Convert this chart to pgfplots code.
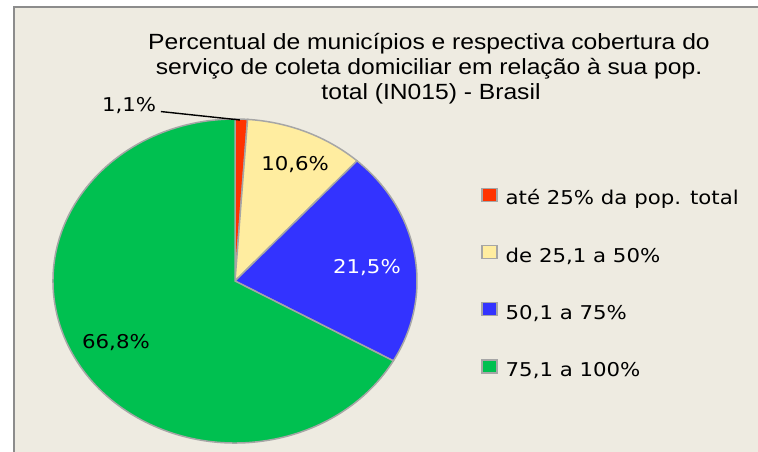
\documentclass[border=0pt]{standalone}
\usepackage{pgfplots}
\pgfplotsset{compat=1.18}
\usepackage{pgfplotstable}
\usepackage{fontspec}
\setmainfont[FakeStretch=1.12]{DejaVu Sans}
\newfontfamily\titlefont[FakeStretch=1.12]{Liberation Sans}
\definecolor{bg}{HTML}{EEEBE1}
\definecolor{cred}{HTML}{FF3300}
\definecolor{cyel}{HTML}{FFEDA0}
\definecolor{cblu}{HTML}{3333FF}
\definecolor{cgrn}{HTML}{00C050}
\definecolor{edge}{HTML}{A6A6A6}
\definecolor{frame}{HTML}{8C8C8C}

\pgfplotstableread{
idx value
0 1.1
1 10.6
2 21.5
3 66.8
}\piedata

\begin{document}
\begin{tikzpicture}[x=1pt,y=1pt]
\path[use as bounding box] (0pt,0pt) rectangle (758pt,-452pt);
\fill[white] (0pt,0pt) rectangle (758pt,-452pt);
\fill[bg] (14pt,-7pt) rectangle (758pt,-452pt);
\draw[frame, line width=2pt] (14pt,-452pt) -- (14pt,-7pt) -- (758pt,-7pt);

\pgfplotstablegetelem{0}{value}\of\piedata \let\vA\pgfplotsretval
\pgfplotstablegetelem{1}{value}\of\piedata \let\vB\pgfplotsretval
\pgfplotstablegetelem{2}{value}\of\piedata \let\vC\pgfplotsretval
\pgfplotstablegetelem{3}{value}\of\piedata \let\vD\pgfplotsretval
\pgfmathsetmacro\tA{0}
\pgfmathsetmacro\tB{\tA+3.6*\vA}
\pgfmathsetmacro\tC{\tB+3.6*\vB}
\pgfmathsetmacro\tD{\tC+3.6*\vC}
\pgfmathsetmacro\tE{\tD+3.6*\vD}
\pgfmathsetmacro\xA{sin(\tA)}\pgfmathsetmacro\yA{cos(\tA)}
\pgfmathsetmacro\xB{sin(\tB)}\pgfmathsetmacro\yB{cos(\tB)}
\pgfmathsetmacro\xC{sin(\tC)}\pgfmathsetmacro\yC{cos(\tC)}
\pgfmathsetmacro\xD{sin(\tD)}\pgfmathsetmacro\yD{cos(\tD)}

\begin{axis}[
  at={(53pt,-443pt)}, anchor=south west,
  x=182pt, y=162pt,
  xmin=-1, xmax=1, ymin=-1, ymax=1,
  hide axis, clip=false,
  legend image code/.code={\draw[#1, line width=1.5pt] (0pt,-1pt) rectangle (15pt,12pt);},
  legend style={draw=none, fill=none, inner sep=0pt,
    at={(axis description cs:1.1758,0.7886)}, anchor=north west,
    font=\fontsize{19}{19}\selectfont,
    row sep=34.9pt,
    nodes={inner sep=0pt, text height=14pt, text depth=5pt},
    /tikz/every odd column/.append style={column sep=8pt}},
  legend cell align=left,
]
\addplot[fill=cred, draw=edge, line width=1.5pt] coordinates {(0,0) (\xA,\yA)}
  arc[start angle={90-\tA}, end angle={90-\tB}, x radius=182pt, y radius=162pt] -- cycle;
\addlegendentry{até 25\% da pop. total}
\addplot[fill=cyel, draw=edge, line width=1.5pt] coordinates {(0,0) (\xB,\yB)}
  arc[start angle={90-\tB}, end angle={90-\tC}, x radius=182pt, y radius=162pt] -- cycle;
\addlegendentry{de 25,1 a 50\%}
\addplot[fill=cblu, draw=edge, line width=1.5pt] coordinates {(0,0) (\xC,\yC)}
  arc[start angle={90-\tC}, end angle={90-\tD}, x radius=182pt, y radius=162pt] -- cycle;
\addlegendentry{50,1 a 75\%}
\addplot[fill=cgrn, draw=edge, line width=1.5pt] coordinates {(0,0) (\xD,\yD)}
  arc[start angle={90-\tD}, end angle={90-\tE}, x radius=182pt, y radius=162pt] -- cycle;
\addlegendentry{75,1 a 100\%}
\addplot[black, line width=1.4pt, forget plot] coordinates {(-0.407,1.046) (0.027,0.994)};
\node[font=\fontsize{19}{19}\selectfont] at (axis cs:-0.582,1.086) {1,1\%};
\node[font=\fontsize{19}{19}\selectfont] at (axis cs:0.330,0.716) {10,6\%};
\node[font=\fontsize{19}{19}\selectfont, white] at (axis cs:0.725,0.086) {21,5\%};
\node[font=\fontsize{19}{19}\selectfont] at (axis cs:-0.654,-0.377) {66,8\%};
\end{axis}

\node[anchor=base, font=\titlefont\fontsize{22}{22}\selectfont] at (429pt,-49.5pt) {Percentual de municípios e respectiva cobertura do};
\node[anchor=base, font=\titlefont\fontsize{22}{22}\selectfont] at (429pt,-74.5pt) {serviço de coleta domiciliar em relação à sua pop.};
\node[anchor=base, font=\titlefont\fontsize{22}{22}\selectfont] at (431pt,-99.5pt) {total (IN015) - Brasil};
\end{tikzpicture}
\end{document}
